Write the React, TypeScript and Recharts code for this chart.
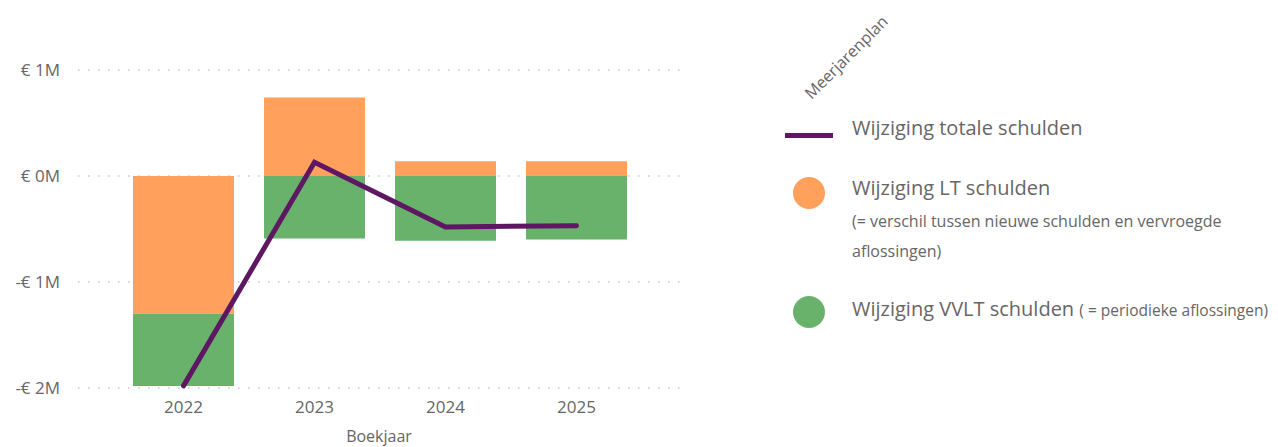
import { ComposedChart, Bar, Line, XAxis, YAxis, CartesianGrid } from "recharts";

const years = ["2022", "2023", "2024", "2025"];
const ltSchulden = [-1300000, 740000, 140000, 140000];
const vvltSchulden = [-680000, -590000, -610000, -600000];
const totaleSchulden = [-1980000, 130000, -480000, -470000];
const yTicks = [-2000000, -1000000, 0, 1000000];

const ORANGE = "#FFA15C";
const GREEN = "#69B26C";
const PURPLE = "#5E1763";
const TEXT = "#666666";
const FONT = "'Open Sans', 'Noto Sans', sans-serif";

const data = years.map((y, i) => ({
  year: y,
  lt: ltSchulden[i],
  vvlt: vvltSchulden[i],
  totaal: totaleSchulden[i],
}));

const fmtEuro = (v: number) => {
  const m = Math.round(Math.abs(v) / 1000000);
  return v < 0 ? `-€ ${m}M` : `€ ${m}M`;
};

export default function App() {
  return (
    <div
      style={{
        position: "fixed",
        left: 0,
        top: 0,
        width: 1278,
        height: 447,
        background: "#fff",
        fontFamily: FONT,
        color: TEXT,
      }}
    >
      <ComposedChart
        width={700}
        height={447}
        data={data}
        stackOffset="sign"
        margin={{ top: 70, right: 20, bottom: 0, left: 0 }}
      >
        <CartesianGrid
          vertical={false}
          stroke="#c8c8c8"
          strokeDasharray="1.5 8.5"
          strokeWidth={1.5}
        />
        <XAxis
          dataKey="year"
          height={59}
          axisLine={false}
          tickLine={false}
          padding={{ left: 40, right: 38 }}
          tick={{ fill: TEXT, fontSize: 17, fontFamily: FONT }}
          tickMargin={7}
          label={{
            value: "Boekjaar",
            position: "insideBottom",
            offset: 5,
            fill: TEXT,
            fontSize: 16,
            fontFamily: FONT,
          }}
        />
        <YAxis
          width={78}
          domain={[-2000000, 1000000]}
          ticks={yTicks}
          axisLine={false}
          tickLine={false}
          tickMargin={12}
          tickFormatter={fmtEuro}
          tick={{ fill: TEXT, fontSize: 17, fontFamily: FONT }}
        />
        <Bar dataKey="lt" stackId="s" fill={ORANGE} barSize={101} isAnimationActive={false} />
        <Bar dataKey="vvlt" stackId="s" fill={GREEN} barSize={101} isAnimationActive={false} />
        <Line
          dataKey="totaal"
          type="linear"
          stroke={PURPLE}
          strokeWidth={5}
          dot={false}
          strokeLinecap="round"
          isAnimationActive={false}
        />
      </ComposedChart>

      <div
        style={{
          position: "absolute",
          left: 846,
          top: 57,
          transform: "translate(-50%, -50%) rotate(-45deg)",
          fontSize: 16,
          whiteSpace: "nowrap",
        }}
      >
        Meerjarenplan
      </div>

      <div
        style={{
          position: "absolute",
          left: 785,
          top: 133,
          width: 48,
          height: 5,
          background: PURPLE,
        }}
      />
      <div style={{ position: "absolute", left: 852, top: 114, fontSize: 20, whiteSpace: "nowrap" }}>
        Wijziging totale schulden
      </div>

      <div
        style={{
          position: "absolute",
          left: 793,
          top: 177,
          width: 32,
          height: 32,
          borderRadius: "50%",
          background: ORANGE,
        }}
      />
      <div style={{ position: "absolute", left: 852, top: 174, fontSize: 20, whiteSpace: "nowrap" }}>
        Wijziging LT schulden
      </div>
      <div style={{ position: "absolute", left: 852, top: 206, fontSize: 16, lineHeight: "30px", width: 420 }}>
        (= verschil tussen nieuwe schulden en vervroegde
        <br />
        aflossingen)
      </div>

      <div
        style={{
          position: "absolute",
          left: 793,
          top: 296,
          width: 32,
          height: 32,
          borderRadius: "50%",
          background: GREEN,
        }}
      />
      <div style={{ position: "absolute", left: 852, top: 295, fontSize: 20, whiteSpace: "nowrap" }}>
        Wijziging VVLT schulden <span style={{ fontSize: 15.5 }}>( = periodieke aflossingen)</span>
      </div>
    </div>
  );
}
